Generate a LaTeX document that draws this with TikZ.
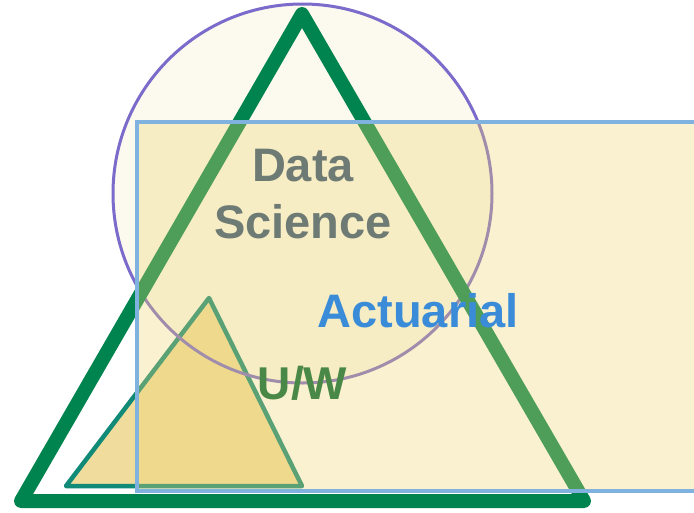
\documentclass[tikz,border=0pt]{standalone}
\usepackage{fontspec}
\setmainfont{Liberation Sans}
\definecolor{circfill}{RGB}{252,249,238}
\definecolor{circline}{RGB}{123,107,203}
\definecolor{bigtri}{RGB}{0,132,79}
\definecolor{smalltri}{RGB}{18,138,120}
\definecolor{smallfill}{RGB}{240,220,156}
\definecolor{rectfill}{RGB}{237,213,111}
\definecolor{rectline}{RGB}{127,178,222}
\definecolor{dstext}{RGB}{110,122,116}
\definecolor{acttext}{RGB}{58,139,216}
\definecolor{uwtext}{RGB}{74,136,72}

\begin{document}
\begin{tikzpicture}[x=1pt,y=-1pt]
\useasboundingbox (0,0) rectangle (694,512);
\clip (0,0) rectangle (694,512);
\fill [circfill] (302.5,193.5) circle (189.5);
\filldraw [fill=smallfill, draw=smalltri, line width=4.5pt, line join=round] (209,298) -- (302,486) -- (66,486) -- cycle;
\draw [circline, line width=3pt] (302.5,193.5) circle (189.5);
\draw [bigtri, line width=14pt, line join=round, line cap=round] (302,14) -- (584,501) -- (21,501) -- cycle;
\filldraw [fill=rectfill, fill opacity=0.33, draw=rectline, line width=4pt] (137,122) rectangle (720,491);
\node [font=\fontsize{47}{57}\selectfont\bfseries, text=dstext, align=center] (ds) at (303,194) {Data\\Science};
\node [font=\fontsize{47}{55}\selectfont\bfseries, text=acttext, anchor=base] (act) at (418,327) {Actuarial};
\node [font=\fontsize{46}{55}\selectfont\bfseries, text=uwtext, anchor=base] (uw) at (302.5,399) {U/W};
\end{tikzpicture}
\end{document}
